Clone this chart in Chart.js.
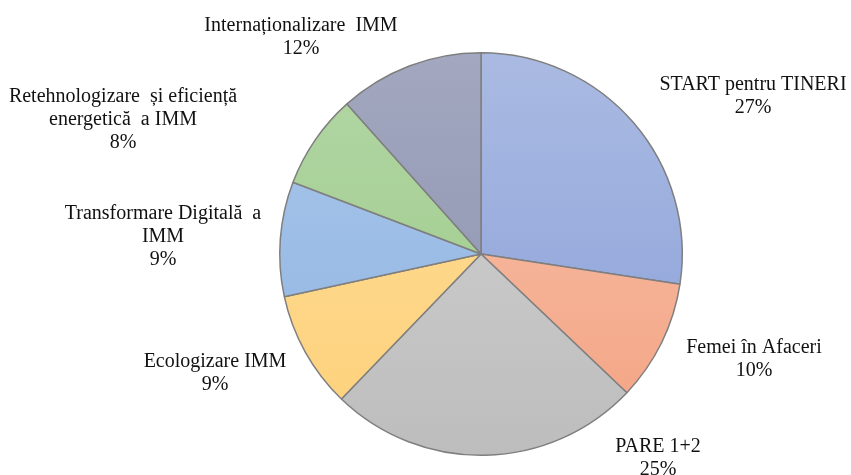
<!DOCTYPE html>
<html>
<head>
<meta charset="utf-8">
<script src="https://cdn.jsdelivr.net/npm/chart.js@4.4.0/dist/chart.umd.min.js"></script>
<style>
	html, body { margin: 0; padding: 0; background: #fff; }
	#wrap { width: 851px; height: 475px; }
</style>
</head>
<body>
<div id="wrap"><canvas id="pie" width="851" height="475"></canvas></div>
<script>

	/* Data */
	var categories = [
		'START pentru TINERI',
		'Femei în Afaceri',
		'PARE 1+2',
		'Ecologizare IMM',
		'Transformare Digitală  a\nIMM',
		'Retehnologizare  și eficiență\nenergetică  a IMM',
		'Internaționalizare  IMM'
	];
	var shares = [27.4, 9.7, 25.1, 9.4, 9.2, 7.6, 11.6];

	/* Gradient colours, top -> bottom */
	var colorsTop = ['#aabae2', '#f7c4ad', '#d3d3d3', '#ffdd9a', '#aac7ea', '#b2d6a4', '#a3a8c0'];
	var colorsBottom = ['#889fd8', '#f4a282', '#bdbdbd', '#fdd17a', '#8db3e1', '#9bca88', '#8a8fae'];

	/* Label block offsets from pie centre */
	var labelOffsets = [
		[272, -158], [273, 105], [177, 204], [-266, 119], [-318, -17], [-358, -134], [-180, -217]
	];

	function sliceFill(context) {
		var chart = context.chart;
		var area = chart.chartArea;
		if (!area) return colorsBottom[context.dataIndex];
		var g = chart.ctx.createLinearGradient(0, area.top, 0, area.bottom);
		g.addColorStop(0, colorsTop[context.dataIndex]);
		g.addColorStop(1, colorsBottom[context.dataIndex]);
		return g;
	}

	var pieLabels = {
		id: 'pieLabels',
		afterDraw: function(chart) {
			var ctx = chart.ctx;
			var meta = chart.getDatasetMeta(0);
			var total = shares.reduce(function(a, b) { return a + b; }, 0);
			ctx.save();
			ctx.font = '20px "Liberation Serif", "Times New Roman", serif';
			ctx.fillStyle = '#111';
			ctx.textAlign = 'center';
			ctx.textBaseline = 'middle';
			meta.data.forEach(function(arc, i) {
				var lines = categories[i].split('\n');
				lines.push(Math.round(shares[i] / total * 100) + '%');
				var cx = arc.x + labelOffsets[i][0];
				var cy = arc.y + labelOffsets[i][1];
				var lh = 23;
				var y0 = cy - (lines.length - 1) * lh / 2;
				lines.forEach(function(line, j) {
					ctx.fillText(line, cx, y0 + j * lh);
				});
			});
			ctx.restore();
		}
	};

	var pieChart = new Chart(document.getElementById('pie'), {
		type: 'pie',
		data: {
			labels: categories,
			datasets: [{
				data: shares,
				backgroundColor: sliceFill,
				borderColor: '#7f7f7f',
				borderWidth: 1.5
			}]
		},
		options: {
			responsive: false,
			animation: false,
			layout: {
				padding: { top: 52, bottom: 19, left: 279, right: 168 }
			},
			plugins: {
				legend: { display: false },
				tooltip: { enabled: false }
			}
		},
		plugins: [pieLabels]
	});

</script>
</body>
</html>
